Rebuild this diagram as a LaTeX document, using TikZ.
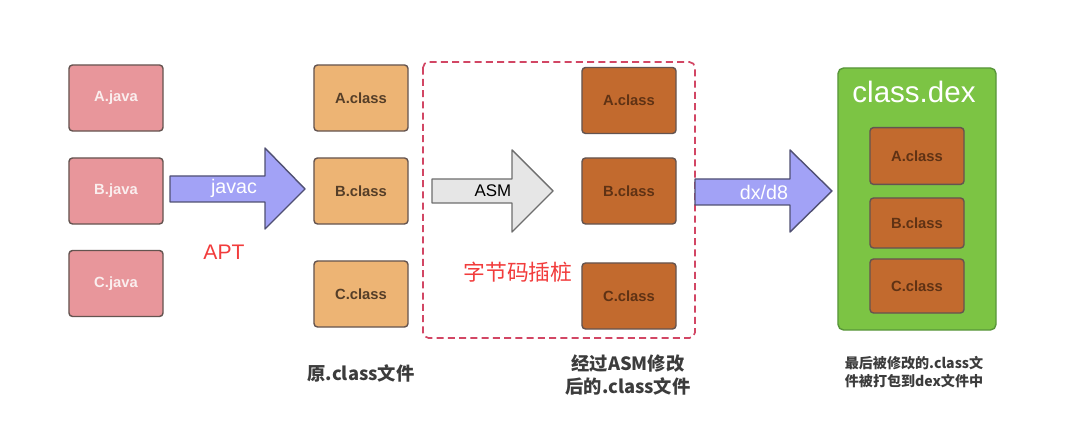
\documentclass[tikz,border=0pt]{standalone}
\usepackage{fontspec}
\usepackage{xcolor}
\setmainfont{Liberation Sans}
\newfontfamily\cjk{Noto Sans CJK SC}
\usetikzlibrary{calc}

\definecolor{javafill}{RGB}{232,150,155}
\definecolor{javatext}{RGB}{250,238,238}
\definecolor{classfill}{RGB}{237,180,116}
\definecolor{classtext}{RGB}{85,62,40}
\definecolor{asmfill}{RGB}{194,106,46}
\definecolor{asmtext}{RGB}{95,50,20}
\definecolor{boxline}{RGB}{100,84,80}
\definecolor{arrowfill}{RGB}{162,162,246}
\definecolor{arrowline}{RGB}{80,80,115}
\definecolor{grayfill}{RGB}{230,230,230}
\definecolor{grayline}{RGB}{110,110,110}
\definecolor{dexfill}{RGB}{124,196,68}
\definecolor{dexline}{RGB}{88,150,58}
\definecolor{dashred}{RGB}{210,70,100}
\definecolor{notered}{RGB}{242,60,60}
\definecolor{labeltext}{RGB}{60,60,60}

\begin{document}
\begin{tikzpicture}[x=0.025cm, y=-0.025cm,
    box/.style={draw=boxline, line width=1pt, rounded corners=2.5pt, minimum width=2.35cm, minimum height=1.65cm, font=\bfseries\fontsize{10.5}{13}\selectfont},
    javabox/.style={box, fill=javafill, text=javatext},
    classbox/.style={box, fill=classfill, text=classtext},
    asmbox/.style={box, fill=asmfill, text=asmtext},
    blockarrow/.style={draw=arrowline, fill=arrowfill, line width=1pt, line join=round},
    note/.style={text=notered, font=\fontsize{15}{18}\selectfont},
    caption/.style={text=labeltext, align=center, font=\cjk\bfseries\fontsize{13}{17}\selectfont}]
    \useasboundingbox[fill=white] (0,0) rectangle (1080,445);

    % source files
    \node[javabox] (jA) at (116,98) {A.java};
    \node[javabox] (jB) at (116,191) {B.java};
    \node[javabox] (jC) at (116,283.5) {C.java};

    % javac
    \draw[blockarrow] (170,176) -- (265,176) -- (265,148) -- (305,189) -- (265,229) -- (265,202) -- (170,202) -- cycle;
    \node[text=white, font=\fontsize{14}{16}\selectfont] (javac) at (234,188) {javac};
    \node[note] (apt) at (224,252) {APT};

    % original class files
    \node[classbox] (cA) at (361,98) {A.class};
    \node[classbox] (cB) at (361,191) {B.class};
    \node[classbox] (cC) at (361,294) {C.class};
    \node[caption] (cLabel) at (361,373) {原.class文件};

    % instrumentation
    \draw[dashred, line width=1.2pt, rounded corners=4pt, dash pattern=on 5pt off 3pt] (423,62) rectangle (695,338);
    \draw[blockarrow, draw=grayline, fill=grayfill] (432,179) -- (512,179) -- (512,150) -- (553,191) -- (512,232) -- (512,203) -- (432,203) -- cycle;
    \node[font=\fontsize{12}{14}\selectfont] (asm) at (493,191) {ASM};
    \node[note, font=\cjk\fontsize{15.5}{18}\selectfont] (stub) at (518,272) {字节码插桩};

    \node[asmbox] (mA) at (629,100.5) {A.class};
    \node[asmbox] (mB) at (629,191) {B.class};
    \node[asmbox] (mC) at (629,296) {C.class};
    \node[caption] (mLabel) at (628,375) {经过ASM修改\\后的.class文件};

    % dx/d8
    \draw[blockarrow] (695,179) -- (790,179) -- (790,150) -- (832,191) -- (790,232) -- (790,205) -- (695,205) -- cycle;
    \node[text=white, font=\fontsize{14}{16}\selectfont] (dx) at (764,192) {dx/d8};

    % dex file
    \node[draw=dexline, fill=dexfill, line width=1pt, rounded corners=4pt, minimum width=3.95cm, minimum height=6.55cm] (dex) at (917,199) {};
    \node[text=white, font=\fontsize{21}{24}\selectfont] (dexTitle) at (914,92) {class.dex};
    \node[asmbox, minimum height=1.42cm] (dA) at (917,156) {A.class};
    \node[asmbox, minimum height=1.25cm] (dB) at (917,223) {B.class};
    \node[asmbox, minimum height=1.35cm] (dC) at (917,286) {C.class};
    \node[caption, font=\cjk\bfseries\fontsize{10}{13}\selectfont] (dLabel) at (914,372) {最后被修改的.class文\\件被打包到dex文件中};
\end{tikzpicture}
\end{document}
